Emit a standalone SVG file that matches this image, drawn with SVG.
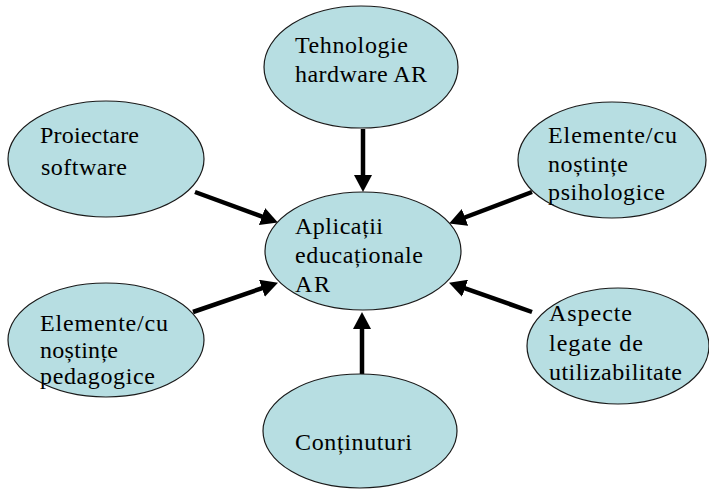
<svg xmlns="http://www.w3.org/2000/svg" width="709" height="489" viewBox="0 0 709 489">
<style>
.node ellipse{fill:#b7dee2;stroke:#1a1a1a;stroke-width:1.2}
.node text{font-family:"Liberation Serif","Times New Roman",serif;font-size:24px;fill:#000}
.conn line{stroke:#000;stroke-width:4.5}
</style>
<defs>
<marker id="ah" markerUnits="userSpaceOnUse" viewBox="0 0 17 18" refX="6" refY="9" markerWidth="17" markerHeight="18" orient="auto">
<path d="M0,0 L17,9 L0,18 z" fill="#000"/>
</marker>
</defs>
<rect width="709" height="489" fill="#fff"/>
<g id="connectors" class="conn">
<line x1="363" y1="129" x2="363" y2="181" marker-end="url(#ah)"/>
<line x1="362" y1="374" x2="362" y2="323" marker-end="url(#ah)"/>
<line x1="195" y1="192" x2="267.6" y2="218.6" marker-end="url(#ah)"/>
<line x1="193" y1="312" x2="267.6" y2="286.3" marker-end="url(#ah)"/>
<line x1="532" y1="192" x2="459.4" y2="219.5" marker-end="url(#ah)"/>
<line x1="532" y1="312" x2="459.4" y2="286.3" marker-end="url(#ah)"/>
</g>
<g id="n-hardware" class="node">
<ellipse cx="361" cy="67" rx="97" ry="61"/>
<text x="295" y="53" textLength="113" lengthAdjust="spacing">Tehnologie</text>
<text x="295" y="82" textLength="132" lengthAdjust="spacing">hardware AR</text>
</g>
<g id="n-software" class="node">
<ellipse cx="106" cy="159" rx="98" ry="58"/>
<text x="40" y="143" textLength="99" lengthAdjust="spacing">Proiectare</text>
<text x="41" y="175" textLength="86" lengthAdjust="spacing">software</text>
</g>
<g id="n-psiho" class="node">
<ellipse cx="612" cy="160" rx="94" ry="58"/>
<text x="548" y="143" textLength="129" lengthAdjust="spacing">Elemente/cu</text>
<text x="548" y="172" textLength="80" lengthAdjust="spacing">noștințe</text>
<text x="548" y="200" textLength="117" lengthAdjust="spacing">psihologice</text>
</g>
<g id="n-center" class="node">
<ellipse cx="363" cy="251" rx="98" ry="59"/>
<text x="295" y="234" textLength="88" lengthAdjust="spacing">Aplicații</text>
<text x="295" y="263" textLength="128" lengthAdjust="spacing">educaționale</text>
<text x="295" y="292" textLength="35" lengthAdjust="spacing">AR</text>
</g>
<g id="n-pedago" class="node">
<ellipse cx="106" cy="340" rx="98" ry="57"/>
<text x="40" y="331" textLength="128" lengthAdjust="spacing">Elemente/cu</text>
<text x="40" y="358" textLength="78" lengthAdjust="spacing">noștințe</text>
<text x="40" y="384" textLength="115" lengthAdjust="spacing">pedagogice</text>
</g>
<g id="n-utiliz" class="node">
<ellipse cx="618" cy="346" rx="91" ry="58"/>
<text x="549" y="321" textLength="83" lengthAdjust="spacing">Aspecte</text>
<text x="549" y="351" textLength="94" lengthAdjust="spacing">legate de</text>
<text x="549" y="380" textLength="133" lengthAdjust="spacing">utilizabilitate</text>
</g>
<g id="n-continut" class="node">
<ellipse cx="360" cy="431" rx="97" ry="57"/>
<text x="295" y="450" textLength="117" lengthAdjust="spacing">Conținuturi</text>
</g>
</svg>
